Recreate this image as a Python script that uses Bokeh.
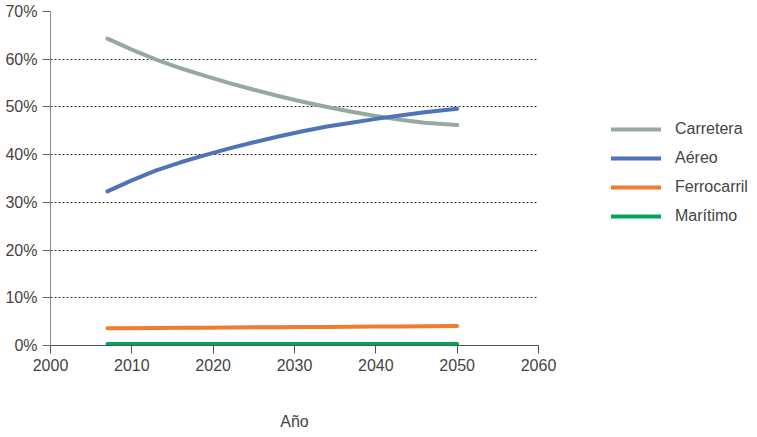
from bokeh.plotting import figure
from bokeh.models import (Legend, LegendItem, NumeralTickFormatter, FixedTicker, Range1d,
                          LinearAxis)
from bokeh.embed import file_html
from bokeh.resources import INLINE

years = [2007, 2010, 2013, 2016, 2019, 2022, 2025, 2028, 2031, 2034, 2037, 2040, 2043, 2046, 2050]
carretera = [0.643, 0.620, 0.599, 0.581, 0.565, 0.550, 0.536, 0.523, 0.511, 0.500,
             0.490, 0.481, 0.473, 0.467, 0.462]
aereo = [0.323, 0.346, 0.367, 0.384, 0.399, 0.413, 0.426, 0.438, 0.449, 0.459,
         0.467, 0.475, 0.482, 0.489, 0.496]
ferrocarril = [0.036, 0.036, 0.0365, 0.037, 0.0372, 0.0375, 0.038, 0.0383, 0.0386,
               0.039, 0.0393, 0.0396, 0.040, 0.0405, 0.041]
maritimo = [0.003] * 15

series_names = ["Carretera", "Aéreo", "Ferrocarril", "Marítimo"]
series_values = [carretera, aereo, ferrocarril, maritimo]
colors = ["#95a8a4", "#4f73b8", "#f07d2e", "#00a65a"]

x_ticks = [2000, 2010, 2020, 2030, 2040, 2050, 2060]
y_ticks = [0, 0.1, 0.2, 0.3, 0.4, 0.5, 0.6, 0.7]
x_title = "Año"

FONT = "Liberation Sans"

# layout: axis area is 488 px wide for 2000..2060; frame extends right to host the legend
W, H = 749, 432
BL, BR, BT, BB = 50, 0, 11, 83
AXIS_PX = 488
frame_w = W - BL - BR
x_lo, x_hi = x_ticks[0], x_ticks[-1]
x_end = x_lo + (x_hi - x_lo) * frame_w / AXIS_PX

p = figure(width=W, height=H, output_backend="svg", toolbar_location=None,
           x_range=Range1d(x_lo, x_end), y_range=Range1d(y_ticks[0], y_ticks[-1]),
           min_border_left=BL, min_border_right=BR, min_border_top=BT, min_border_bottom=BB)
p.outline_line_color = None
p.background_fill_color = "white"

p.xgrid.grid_line_color = None
grid_ok = True
try:
    p.ygrid.cross_bounds = (x_lo, x_hi)
except Exception:
    grid_ok = False
if grid_ok:
    p.ygrid.grid_line_color = "#333333"
    p.ygrid.grid_line_dash = "2 2"
    p.ygrid.grid_line_width = 1
    p.ygrid.ticker = FixedTicker(ticks=y_ticks[1:])
else:
    p.ygrid.grid_line_color = None
    gy = y_ticks[1:]
    p.segment(x0=[x_lo] * len(gy), x1=[x_hi] * len(gy), y0=gy, y1=gy,
              line_color="#333333", line_dash="2 2", line_width=1)

p.xaxis.ticker = FixedTicker(ticks=x_ticks)
p.xaxis.bounds = (x_lo, x_hi)
p.yaxis.ticker = FixedTicker(ticks=y_ticks)
p.yaxis.formatter = NumeralTickFormatter(format="0%")
p.xaxis.formatter.use_scientific = False

for ax in (p.xaxis[0], p.yaxis[0]):
    ax.major_tick_in = 0
    ax.major_tick_out = 8
    ax.minor_tick_line_color = None
    ax.major_label_text_font = FONT
    ax.major_label_text_font_size = "16px"
    ax.major_label_text_color = "#444444"
    ax.major_label_standoff = 5
p.yaxis.axis_line_color = "#8a8a8a"
p.yaxis.major_tick_line_color = "#666666"
p.xaxis.axis_line_color = "#555555"
p.xaxis.major_tick_line_color = "#555555"

items = []
for name, vals, c in zip(series_names, series_values, colors):
    r = p.line(years, vals, line_color=c, line_width=4, line_cap="round", line_join="round")
    items.append(LegendItem(label=name, renderers=[r]))

legend = Legend(items=items, location=(561, 119), orientation="vertical")
legend.border_line_color = None
legend.background_fill_alpha = 0
legend.padding = 0
legend.margin = 0
legend.glyph_width = 50
legend.glyph_height = 20
legend.spacing = 9
legend.label_standoff = 14
legend.label_text_font = FONT
legend.label_text_font_size = "16px"
legend.label_text_color = "#444444"
legend.label_height = 20
p.add_layout(legend, "center")

# x-axis title centred under the 2000..2060 axis, via an invisible second axis
mid = (x_lo + x_hi) / 2
title_axis = LinearAxis(ticker=FixedTicker(ticks=[mid]),
                        major_label_overrides={mid: x_title},
                        axis_line_color=None, major_tick_line_color=None,
                        minor_tick_line_color=None, major_tick_in=0, major_tick_out=0,
                        minor_tick_in=0, minor_tick_out=0, major_label_standoff=39,
                        major_label_text_font=FONT, major_label_text_font_size="16px",
                        major_label_text_color="#444444")
p.add_layout(title_axis, "below")

open("out.html", "w").write(file_html(p, INLINE))
